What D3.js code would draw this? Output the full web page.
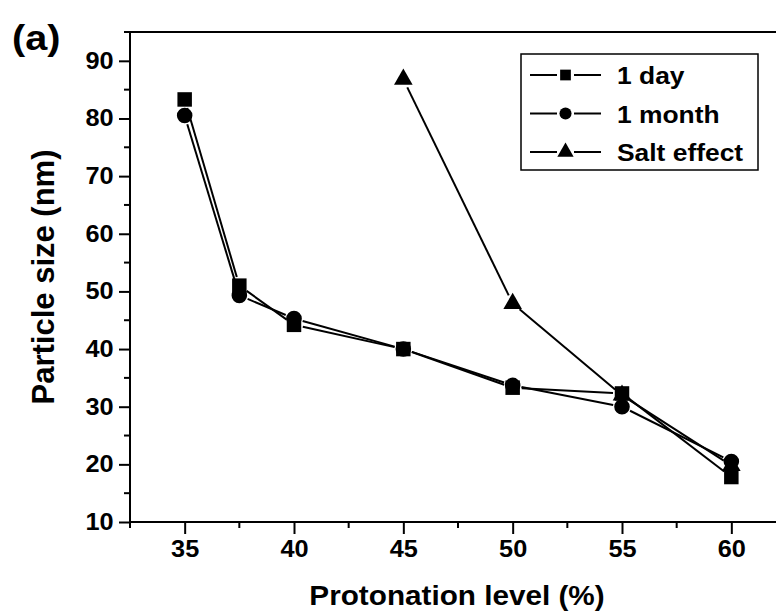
<!DOCTYPE html>
<html>
<head>
<meta charset="utf-8">
<script src="https://cdn.jsdelivr.net/npm/d3@7"></script>
<style>
  body { margin: 0; background: #fff; }
  svg { display: block; overflow: hidden; }
  text { font-family: "Liberation Sans", Arial, sans-serif; font-weight: bold; fill: #000; }
</style>
</head>
<body>
<svg id="chart" width="776" height="613"></svg>
<script>
// Data
const levels = [35, 37.5, 40, 45, 50, 55, 60];
const oneDay = [83.3, 51.0, 44.2, 40.0, 33.3, 32.3, 17.8];
const oneMonth = [80.5, 49.3, 45.3, 40.0, 33.7, 30.0, 20.5];
const saltLevels = [45, 50, 55, 60];
const saltEffect = [86.8, 47.9, 32.0, 19.8];
const xTicks = [35, 40, 45, 50, 55, 60];
const yTicks = [10, 20, 30, 40, 50, 60, 70, 80, 90];

const series = [
    { name: "1 day", x: levels, y: oneDay, symbol: d3.symbolSquare, size: 210 },
    { name: "1  month", x: levels, y: oneMonth, symbol: d3.symbolCircle, size: 190 },
    { name: "Salt effect", x: saltLevels, y: saltEffect, symbol: d3.symbolTriangle, size: 150 }
];

const svg = d3.select("#chart");
const plotLeft = 130, plotRight = 786, plotTop = 32, plotBottom = 522;
const stretch = 1.1; // the figure's lettering is a little wider than Liberation Sans

// Scales
const x = d3.scaleLinear().domain([32.5, 62.5]).range([plotLeft, plotRight]);
const y = d3.scaleLinear().domain([10, 95]).range([plotBottom, plotTop]);

// Top border
svg.append("line")
    .attr("x1", plotLeft).attr("x2", plotRight)
    .attr("y1", plotTop).attr("y2", plotTop)
    .attr("stroke", "#000").attr("stroke-width", 2);

// Axes
const xAxis = svg.append("g")
    .attr("transform", `translate(0,${plotBottom})`)
    .call(d3.axisBottom(x).tickValues(xTicks).tickSize(12).tickPadding(7));
xAxis.append("g").selectAll("line")
    .data(d3.range(32.5, 63, 5))
    .join("line")
    .attr("x1", d => x(d)).attr("x2", d => x(d))
    .attr("y1", 0).attr("y2", 6)
    .attr("stroke", "#000").attr("stroke-width", 2);

const yAxis = svg.append("g")
    .attr("transform", `translate(${plotLeft},0)`)
    .call(d3.axisLeft(y).tickValues(yTicks).tickSize(11).tickPadding(4));
yAxis.append("g").selectAll("line")
    .data(d3.range(15, 96, 10))
    .join("line")
    .attr("y1", d => y(d)).attr("y2", d => y(d))
    .attr("x1", 0).attr("x2", -6)
    .attr("stroke", "#000").attr("stroke-width", 2);

[xAxis, yAxis].forEach(g => {
    g.select(".domain").remove();
    g.selectAll(".tick line").attr("stroke-width", 2);
    g.selectAll(".tick text")
        .attr("transform", `scale(${stretch},1)`)
        .style("font-size", "23px")
        .style("font-family", "Liberation Sans, Arial, sans-serif")
        .style("font-weight", "bold");
});
svg.append("line").attr("x1", plotLeft).attr("x2", plotRight).attr("y1", plotBottom).attr("y2", plotBottom)
    .attr("stroke", "#000").attr("stroke-width", 2);
svg.append("line").attr("x1", plotLeft).attr("x2", plotLeft).attr("y1", plotTop).attr("y2", plotBottom)
    .attr("stroke", "#000").attr("stroke-width", 2);

// Series: segments with small gaps around the symbols
const gap = 9;
function trim(a, b, end) {
    const len = Math.hypot(b[0] - a[0], b[1] - a[1]);
    const ux = (b[0] - a[0]) / len, uy = (b[1] - a[1]) / len;
    return end ? [b[0] - ux * gap, b[1] - uy * gap] : [a[0] + ux * gap, a[1] + uy * gap];
}
series.forEach(s => {
    const pts = s.x.map((v, i) => [x(v), y(s.y[i])]);
    const segs = d3.pairs(pts);
    svg.append("g").selectAll("line")
        .data(segs)
        .join("line")
        .attr("x1", d => trim(d[0], d[1], false)[0])
        .attr("y1", d => trim(d[0], d[1], false)[1])
        .attr("x2", d => trim(d[0], d[1], true)[0])
        .attr("y2", d => trim(d[0], d[1], true)[1])
        .attr("stroke", "#000").attr("stroke-width", 2);
    svg.append("g").selectAll("path")
        .data(pts)
        .join("path")
        .attr("transform", d => `translate(${d[0]},${d[1]})`)
        .attr("d", d3.symbol().type(s.symbol).size(s.size))
        .attr("fill", "#000");
});

// Legend
const legend = svg.append("g");
legend.append("rect")
    .attr("x", 521).attr("y", 54).attr("width", 237).attr("height", 116)
    .attr("fill", "#fff").attr("stroke", "#000").attr("stroke-width", 1.5);
series.forEach((s, i) => {
    const cy = 75 + i * 38.5;
    const g = legend.append("g").attr("transform", `translate(0,${cy})`);
    g.append("line").attr("x1", 530).attr("x2", 557).attr("y1", 0).attr("y2", 0)
        .attr("stroke", "#000").attr("stroke-width", 2);
    g.append("line").attr("x1", 574).attr("x2", 601).attr("y1", 0).attr("y2", 0)
        .attr("stroke", "#000").attr("stroke-width", 2);
    g.append("path")
        .attr("transform", "translate(565.5,0)")
        .attr("d", d3.symbol().type(s.symbol).size(115))
        .attr("fill", "#000");
    g.append("text")
        .attr("transform", `translate(617,9) scale(${stretch},1)`)
        .style("font-size", "24px").text(s.name);
});

// Axis titles
svg.append("text")
    .attr("transform", `translate(457,605) scale(${stretch},1)`)
    .attr("text-anchor", "middle")
    .style("font-size", "27px")
    .text("Protonation level (%)");
svg.append("text")
    .attr("transform", "translate(54,277) rotate(-90)")
    .attr("text-anchor", "middle")
    .style("font-size", "31px")
    .text("Particle size (nm)");

// Panel label
svg.append("text")
    .attr("transform", `translate(12,50) scale(${stretch},1)`)
    .style("font-size", "36px")
    .text("(a)");
</script>
</body>
</html>
